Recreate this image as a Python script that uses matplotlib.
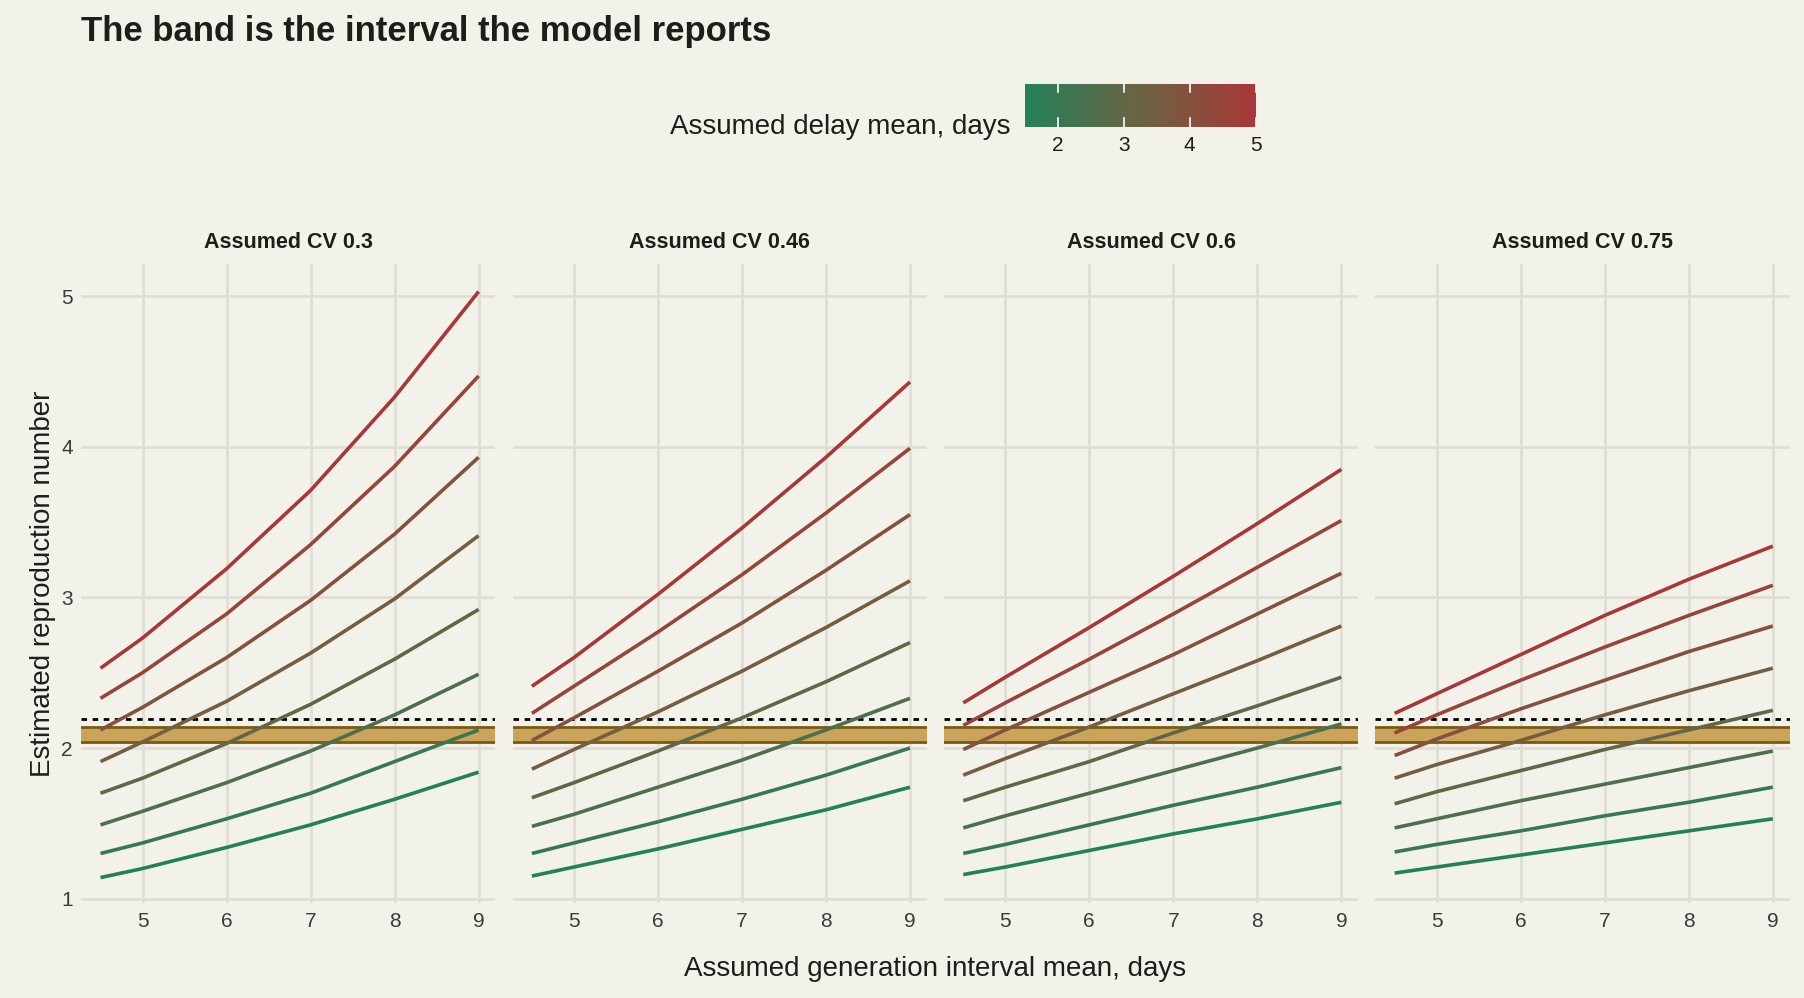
import numpy as np
import matplotlib
matplotlib.use("Agg")
import matplotlib.pyplot as plt
from matplotlib.colors import LinearSegmentedColormap, Normalize
from matplotlib.colorbar import ColorbarBase

plt.rcParams['font.family'] = ['Liberation Sans', 'DejaVu Sans']

gi_means = [4.5, 5, 6, 7, 8, 9]
delay_means = [1.5, 2, 2.5, 3, 3.5, 4, 4.5, 5]
cvs = ["0.3", "0.46", "0.6", "0.75"]

r_cv030 = [
    [1.14, 1.20, 1.34, 1.49, 1.66, 1.84],
    [1.30, 1.37, 1.53, 1.70, 1.91, 2.12],
    [1.49, 1.58, 1.77, 1.98, 2.22, 2.49],
    [1.70, 1.80, 2.03, 2.29, 2.59, 2.92],
    [1.91, 2.04, 2.31, 2.63, 2.99, 3.41],
    [2.12, 2.27, 2.60, 2.98, 3.42, 3.93],
    [2.33, 2.50, 2.89, 3.35, 3.87, 4.47],
    [2.53, 2.73, 3.19, 3.71, 4.33, 5.03],
]
r_cv046 = [
    [1.15, 1.21, 1.33, 1.46, 1.59, 1.74],
    [1.30, 1.37, 1.51, 1.66, 1.82, 2.00],
    [1.48, 1.56, 1.74, 1.92, 2.12, 2.33],
    [1.67, 1.77, 1.98, 2.20, 2.44, 2.70],
    [1.86, 1.99, 2.24, 2.51, 2.80, 3.11],
    [2.05, 2.20, 2.51, 2.83, 3.18, 3.55],
    [2.23, 2.41, 2.77, 3.15, 3.56, 3.99],
    [2.41, 2.60, 3.02, 3.46, 3.93, 4.43],
]
r_cv060 = [
    [1.16, 1.21, 1.32, 1.43, 1.53, 1.64],
    [1.30, 1.36, 1.49, 1.62, 1.74, 1.87],
    [1.47, 1.55, 1.70, 1.85, 2.00, 2.16],
    [1.65, 1.74, 1.91, 2.10, 2.28, 2.47],
    [1.82, 1.93, 2.14, 2.36, 2.58, 2.81],
    [1.99, 2.12, 2.37, 2.62, 2.89, 3.16],
    [2.15, 2.30, 2.59, 2.89, 3.20, 3.51],
    [2.30, 2.47, 2.80, 3.14, 3.49, 3.85],
]
r_cv075 = [
    [1.17, 1.21, 1.29, 1.37, 1.45, 1.53],
    [1.31, 1.36, 1.45, 1.55, 1.64, 1.74],
    [1.47, 1.53, 1.65, 1.76, 1.87, 1.98],
    [1.63, 1.71, 1.85, 1.99, 2.12, 2.25],
    [1.80, 1.89, 2.05, 2.22, 2.38, 2.53],
    [1.95, 2.06, 2.26, 2.45, 2.64, 2.81],
    [2.10, 2.22, 2.45, 2.67, 2.88, 3.08],
    [2.23, 2.36, 2.62, 2.88, 3.12, 3.34],
]
panels = [r_cv030, r_cv046, r_cv060, r_cv075]
band_low, band_high = 2.04, 2.14
ref_line = 2.19

bg = "#f2f1ea"
grid_c = "#e0ded5"
text_c = "#1a1f1a"
cmap = LinearSegmentedColormap.from_list("gr", ["#23805a", "#6b6343", "#a83838"])
norm = Normalize(1.5, 5)

fig = plt.figure(figsize=(18.04, 9.98), dpi=100, facecolor=bg)
left, right, bottom, top = 0.045, 0.992, 0.095, 0.735
gap = 0.0095
w = (right - left - 3 * gap) / 4
axes = []
for i, (cv, data) in enumerate(zip(cvs, panels)):
    ax = fig.add_axes([left + i * (w + gap), bottom, w, top - bottom])
    ax.set_facecolor(bg)
    for s in ax.spines.values():
        s.set_visible(False)
    ax.grid(True, color=grid_c, linewidth=2)
    ax.set_axisbelow(True)
    ax.set_xlim(4.27, 9.2)
    ax.set_ylim(0.97, 5.21)
    ax.set_xticks([5, 6, 7, 8, 9])
    ax.set_yticks([1, 2, 3, 4, 5])
    ax.tick_params(length=0, labelsize=15, colors="#3a3a3a", pad=6)
    if i > 0:
        ax.set_yticklabels([])
    ax.axhspan(band_low, band_high, color="#caa45a", zorder=1)
    ax.axhline(band_low, color="#7a5a12", lw=2, zorder=1.5)
    ax.axhline(band_high, color="#7a5a12", lw=2, zorder=1.5)
    ax.axhline(ref_line, color="black", lw=2, ls=(0, (2, 2)), zorder=1.5)
    for d, ys in zip(delay_means, data):
        ax.plot(gi_means, ys, color=cmap(norm(d)), lw=2.6, zorder=3,
                solid_capstyle="butt", solid_joinstyle="round")
    ax.set_title(f"Assumed CV {cv}", fontsize=15.5, fontweight="bold",
                 color=text_c, pad=12)
    axes.append(ax)

axes[0].set_ylabel("Estimated reproduction number", fontsize=20, color=text_c)
fig.text((left + right) / 2, 0.022, "Assumed generation interval mean, days",
         ha="center", fontsize=20, color=text_c)
fig.text(0.045, 0.968, "The band is the interval the model reports",
         fontsize=25, fontweight="bold", color=text_c, va="center")

cax = fig.add_axes([0.568, 0.873, 0.128, 0.043])
cb = ColorbarBase(cax, cmap=cmap, norm=norm, orientation="horizontal")
cb.outline.set_visible(False)
cb.set_ticks([2, 3, 4, 5])
cax.tick_params(length=0, labelsize=15, colors=text_c, pad=7)
for t in [2, 3, 4, 5]:
    cax.plot([t, t], [0, 0.2], color="white", lw=1.2)
    cax.plot([t, t], [0.8, 1], color="white", lw=1.2)
cax.set_xlim(1.5, 5)
cax.set_ylim(0, 1)
fig.text(0.560, 0.873, "Assumed delay mean, days", ha="right",
         va="center", fontsize=20, color=text_c)

fig.savefig("out.png", dpi=100, facecolor=bg)
